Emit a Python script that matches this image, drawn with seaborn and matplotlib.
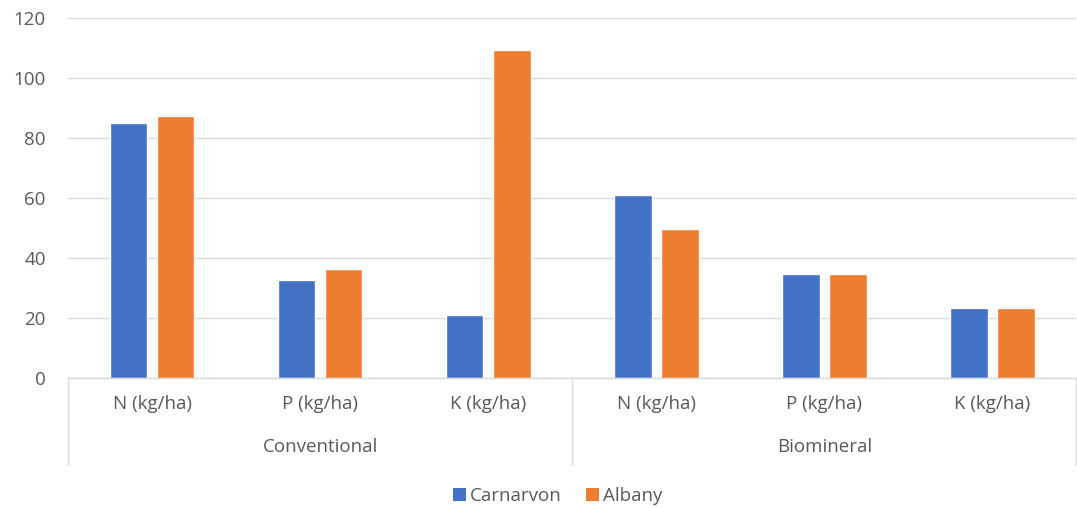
import matplotlib
matplotlib.use("Agg")
import matplotlib.pyplot as plt
import seaborn as sns
import pandas as pd
from matplotlib.transforms import blended_transform_factory
from matplotlib.patches import Patch

groups = ["Conventional", "Biomineral"]
nutrients = ["N (kg/ha)", "P (kg/ha)", "K (kg/ha)"]
series = ["Carnarvon", "Albany"]
carnarvon = [85, 32.7, 21, 61, 34.7, 23.3]
albany = [87.3, 36.3, 109.3, 49.7, 34.7, 23.3]
yticks = [0, 20, 40, 60, 80, 100, 120]

colors = {"Carnarvon": "#4472C4", "Albany": "#ED7D31"}
text_color = "#595959"
grid_color = "#D9D9D9"
fs = 13.5

cats = [f"{g}|{n}" for g in groups for n in nutrients]
rows = []
for i, c in enumerate(cats):
    rows.append({"cat": c, "series": "Carnarvon", "value": carnarvon[i]})
    rows.append({"cat": c, "series": "Albany", "value": albany[i]})
df = pd.DataFrame(rows)

sns.set_theme(style="white")
plt.rcParams["font.family"] = ["Open Sans", "DejaVu Sans"]

fig = plt.figure(figsize=(10.77, 5.08), dpi=100)
ax = fig.add_axes([68 / 1077, 1 - 378 / 508, 1 - 68 / 1077 - 0.0005, 360 / 508])

sns.barplot(data=df, x="cat", y="value", hue="series", order=cats,
            hue_order=series, palette=colors, width=0.56, gap=0.2,
            saturation=1, ax=ax, legend=False)

ax.set_ylim(0, 120)
ax.set_xlim(-0.5, len(cats) - 0.5)
ax.set_yticks(yticks)
ax.set_yticklabels([str(t) for t in yticks], fontsize=fs, color=text_color)
ax.yaxis.grid(True, color=grid_color, linewidth=1)
ax.set_axisbelow(True)
for s in ["top", "right", "left"]:
    ax.spines[s].set_visible(False)
ax.spines["bottom"].set_color(grid_color)
ax.spines["bottom"].set_linewidth(1)
ax.tick_params(axis="y", length=0, pad=16)
ax.tick_params(axis="x", length=0, pad=12)
ax.set_xticks(range(len(cats)))
ax.set_xticklabels([c.split("|")[1] for c in cats], fontsize=fs, color=text_color)
ax.set_xlabel("")
ax.set_ylabel("")

trans = blended_transform_factory(ax.transData, ax.transAxes)
for xpos in [-0.5, 2.5, 5.5]:
    ax.plot([xpos, xpos], [0, -87 / 360], transform=trans, color=grid_color,
            linewidth=1, clip_on=False)
for gi, g in enumerate(groups):
    ax.text(gi * 3 + 1, -69 / 360, g, transform=trans, ha="center", va="center",
            fontsize=fs, color=text_color)

handles = [Patch(facecolor=colors[s], edgecolor="none", label=s) for s in series]
fig.legend(handles=handles, loc="center", bbox_to_anchor=(558 / 1077, 1 - 496 / 508),
           ncol=2, frameon=False, fontsize=fs, labelcolor=text_color,
           handlelength=0.65, handleheight=0.65, handletextpad=0.25, columnspacing=1.3)

fig.savefig("out.png", dpi=100)
